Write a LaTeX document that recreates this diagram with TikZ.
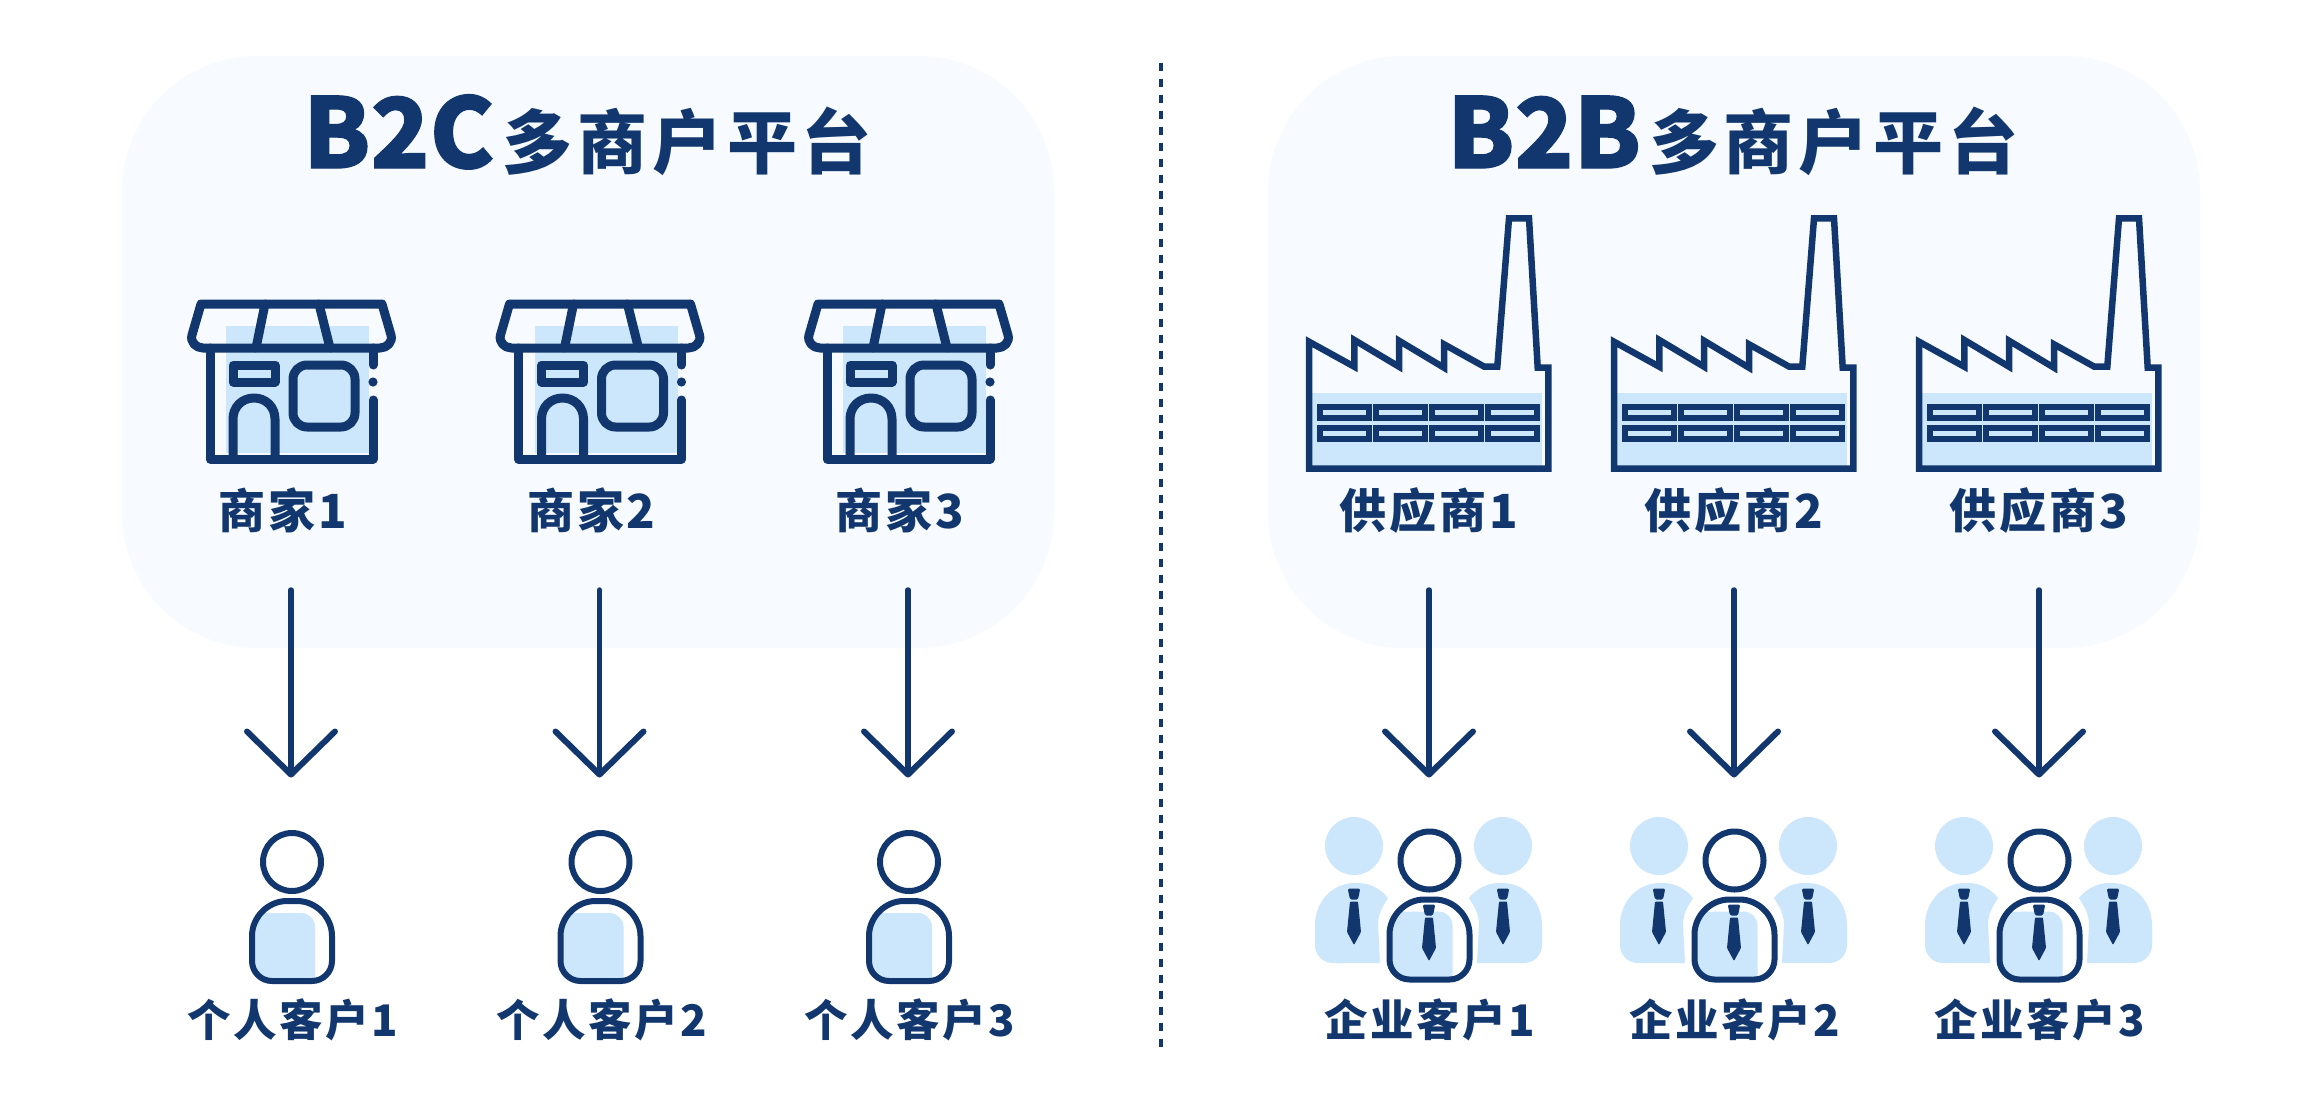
\documentclass[tikz,border=0pt]{standalone}
\usepackage{fontspec}
\usetikzlibrary{arrows.meta}
\setmainfont{Noto Sans CJK SC}
\newfontfamily\lblfont{Noto Sans CJK SC}[LetterSpace=6]
\newfontfamily\ttlfont{Noto Sans CJK SC}[LetterSpace=7]
\newfontfamily\headfont{Noto Sans CJK SC}[FakeBold=1.2]
\definecolor{navy}{HTML}{12376E}
\definecolor{lightb}{HTML}{CCE6FC}
\definecolor{panelb}{HTML}{F7FBFF}
\newcommand{\bodyshape}{(252,936) .. controls (252,917) and (268,901) .. (287,901) -- (297,901) .. controls (316,901) and (332,917) .. (332,936) -- (332,961) .. controls (332,972) and (323,981) .. (312,981) -- (272,981) .. controls (261,981) and (252,972) .. (252,961) -- cycle}
\tikzset{
  x=1pt,y=-1pt,
  panel/.style={fill=panelb,draw=none,rounded corners=135pt},
  icon/.style={draw=navy,line width=9pt,line join=round,line cap=round},
  thin icon/.style={draw=navy,line width=6pt,line join=round},
  flow/.style={draw=navy,line width=5.5pt,line cap=round,-{Straight Barb[length=43pt,width=88pt,round,line width=6pt]}},
  lbl/.style={text=navy,font=\lblfont\bfseries\fontsize{47}{47}\selectfont,anchor=base,inner sep=0pt},
  lblsm/.style={text=navy,font=\lblfont\bfseries\fontsize{43.5}{43.5}\selectfont,anchor=base,inner sep=0pt},
  ttl/.style={text=navy,anchor=base west,inner sep=0pt},
  divider/.style={draw=navy,line width=4pt,dash pattern=on 8.5pt off 7.5pt},
  pics/tie/.style={code={
    \fill[navy,rounded corners=1.5pt] (-6.3,0.5) -- (6.3,0.5) -- (4,11.5) -- (-4,11.5) -- cycle;
    \fill[navy,rounded corners=1pt] (-4,13.5) -- (4,13.5) -- (7,44) -- (0,57) -- (-7,44) -- cycle;
  }},
  pics/store/.style={code={
    \fill[lightb] (226,326) rectangle (369,453);
    \draw[icon] (201,304) -- (382,304) -- (391,335) .. controls (393,342) and (387,348) .. (380,348) -- (203,348) .. controls (196,348) and (190,342) .. (192,335) -- cycle;
    \draw[icon] (265,304) -- (256,348);
    \draw[icon] (319,304) -- (330,348);
    \draw[icon] (210,348) -- (210,459) -- (373,459) -- (373,400);
    \draw[icon] (373,348) -- (373,365);
    \fill[navy] (373,382) circle (4.6pt);
    \draw[icon] (233,365) rectangle (275,382);
    \draw[icon,rounded corners=14pt] (293,365) rectangle (355,427);
    \draw[icon] (233,459) -- (233,419) .. controls (233,407) and (242,398) .. (254,398) .. controls (266,398) and (275,407) .. (275,419) -- (275,459);
  }},
  pics/factory/.style={code={
    \fill[lightb] (1309,393.3) rectangle (1542.3,465.7);
    \foreach \xa/\xb in {1320.3/1369.3,1375.7/1425,1432/1481,1487.7/1537}{
      \draw[navy,line width=6pt] (\xa,406.7) rectangle (\xb,418);
      \draw[navy,line width=6pt] (\xa,428) rectangle (\xb,439);
    }
    \draw[navy,line width=6.5pt,miter limit=10] (1309,468.7) -- (1309,341.7) -- (1354.3,366.7) -- (1354.3,340) -- (1399,366.7) -- (1399,340.7) -- (1444,367.7) -- (1444,344.3) -- (1484.3,366.7) -- (1497.3,366.7) -- (1509,218.3) -- (1529,218.3) -- (1537.7,367.7) -- (1548.3,367.7) -- (1548.3,468.7) -- cycle;
  }},
  pics/person/.style={code={
    \begin{scope}
      \clip \bodyshape;
      \fill[lightb,rounded corners=14pt] (240,913) -- (315,913) -- (315,1000) -- (240,1000) -- cycle;
    \end{scope}
    \draw[thin icon] \bodyshape;
    \draw[thin icon] (292,862) circle (29pt);
  }},
  pics/team/.style={code={
    \fill[lightb] (1354,846) circle (29pt);
    \fill[lightb] (1503,846) circle (29pt);
    \foreach \m/\o in {1/0,-1/2857}{
      \begin{scope}[xshift=\o pt,xscale=\m]
        \fill[lightb] (1315,925) .. controls (1315,902) and (1332,883) .. (1355,883) -- (1358,883) .. controls (1370,883) and (1381,889) .. (1388,898) .. controls (1384,905) and (1378,912) .. (1378,925) -- (1380,963) -- (1333,963) .. controls (1323,963) and (1315,955) .. (1315,945) -- cycle;
      \end{scope}
    }
    \begin{scope}[shift={(1137.5,-1.5)}]
      \begin{scope}
        \clip \bodyshape;
        \fill[lightb,rounded corners=14pt] (240,913) -- (315,913) -- (315,1000) -- (240,1000) -- cycle;
      \end{scope}
      \draw[thin icon] \bodyshape;
      \draw[thin icon] (292,862) circle (29pt);
    \end{scope}
    \pic at (1429,904) {tie};
    \pic at (1354,888) {tie};
    \pic at (1503,888) {tie};
  }},
}
\begin{document}
\begin{tikzpicture}
\useasboundingbox (0,0) rectangle (2322,1106);
\fill[white] (0,0) rectangle (2322,1106);
\path[panel] (122,56) rectangle (1054,648);
\path[panel] (1268,56) rectangle (2200,648);
% divider
\coordinate (divtop) at (1161,62.5);
\coordinate (divbot) at (1161,1050);
\draw[divider] (divtop) -- (divbot);
% titles
\node[ttl] (titleA) at (303,168) {\headfont\fontsize{97}{97}\selectfont\bfseries B2C\hspace{8pt}\ttlfont\bfseries\fontsize{70}{70}\selectfont 多商户平台};
\node[ttl] (titleB) at (1447,168) {\headfont\fontsize{97}{97}\selectfont\bfseries B2B\hspace{8pt}\ttlfont\bfseries\fontsize{70}{70}\selectfont 多商户平台};
% left column
\foreach \i/\dx in {1/0,2/308.5,3/617}{
  \pic at (\dx,0) {store};
  \pic at (\dx,0) {person};
  \node[lbl] (m\i) at (283+\dx,528) {商家\i};
  \node[lblsm] (c\i) at (293+\dx,1036) {个人客户\i};
  \coordinate (ma\i) at (291+\dx,590);
  \coordinate (ca\i) at (291+\dx,777.5);
  \draw[flow] (ma\i) -- (ca\i);
}
% right column
\foreach \i/\dx in {1/0,2/305,3/610}{
  \pic at (\dx,0) {factory};
  \pic at (\dx,0) {team};
  \node[lbl] (s\i) at (1429+\dx,528) {供应商\i};
  \node[lblsm] (e\i) at (1430+\dx,1036) {企业客户\i};
  \coordinate (sa\i) at (1429+\dx,590);
  \coordinate (ea\i) at (1429+\dx,777.5);
  \draw[flow] (sa\i) -- (ea\i);
}
\end{tikzpicture}
\end{document}
